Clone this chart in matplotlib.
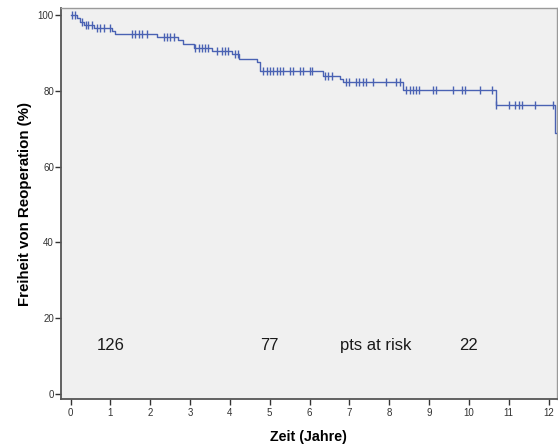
import numpy as np
import matplotlib
matplotlib.use("Agg")
import matplotlib.pyplot as plt

plt.rcParams['font.family'] = ['Liberation Sans', 'DejaVu Sans']

# Kaplan-Meier step curve: event times (years) and survival (%) after each step
event_times = [0.0, 0.16, 0.24, 0.35, 0.58, 1.03, 1.11, 2.16, 2.69, 2.83, 3.10,
               3.54, 4.05, 4.24, 4.67, 4.76, 6.33, 6.76, 6.83, 8.34, 10.68, 12.17]
survival = [100.0, 99.2, 98.4, 97.5, 96.6, 95.8, 95.1, 94.3, 93.6, 92.4, 91.5,
            90.5, 89.9, 88.5, 87.6, 85.3, 84.0, 83.3, 82.5, 80.3, 76.4, 68.9]
end_time = 12.25

# censored observations (years)
censor_times = [0.03, 0.10, 0.28, 0.38, 0.45, 0.54, 0.66, 0.74, 0.83, 1.0,
                1.54, 1.62, 1.71, 1.79, 1.92, 2.34, 2.42, 2.50, 2.59,
                3.13, 3.22, 3.30, 3.38, 3.45, 3.67, 3.79, 3.88, 3.96, 4.13, 4.20,
                4.84, 4.92, 5.01, 5.09, 5.18, 5.26, 5.34, 5.51, 5.59, 5.76, 5.84,
                6.01, 6.06, 6.39, 6.47, 6.56, 6.92, 7.00, 7.17, 7.25, 7.34, 7.42,
                7.59, 7.92, 8.17, 8.26, 8.43, 8.51, 8.59, 8.68, 8.76, 9.10, 9.18,
                9.60, 9.82, 9.91, 10.27, 10.58, 10.68, 11.00, 11.17, 11.25, 11.33,
                11.67, 12.10]

risk_labels = ["126", "77", "pts at risk", "22"]
risk_x = [1.0, 5.0, 7.65, 10.0]
risk_y = 12.8

xticks = list(range(0, 13))
yticks = [0, 20, 40, 60, 80, 100]

line_color = '#4a62b3'

fig = plt.figure(figsize=(5.58, 4.47), dpi=100)
ax = fig.add_axes([0.109, 0.107, 0.889, 0.875])
ax.set_facecolor('#f0f0f0')

xs = list(event_times) + [end_time]
ys = list(survival) + [survival[-1]]
ax.step(xs, ys, where='post', color=line_color, lw=1.0, zorder=3)

et = np.array(event_times)
sv = np.array(survival)
cy = [sv[np.searchsorted(et, t, side='right') - 1] for t in censor_times]
ax.plot(censor_times, cy, linestyle='none', marker='|', markersize=6,
        markeredgewidth=1.0, color=line_color, zorder=4)

for lab, x in zip(risk_labels, risk_x):
    ax.text(x, risk_y, lab, ha='center', va='center', fontsize=12, color='#1a1a1a')

ax.set_xlim(-0.244, 12.21)
ax.set_ylim(-1.5, 101.96)
ax.set_xticks(xticks)
ax.set_yticks(yticks)
ax.tick_params(axis='both', labelsize=7, colors='#333333', length=4, width=1.0,
               direction='out')
ax.tick_params(axis='x', pad=2)
ax.tick_params(axis='y', pad=1)

for s in ['left', 'bottom']:
    ax.spines[s].set_color('#555555')
    ax.spines[s].set_linewidth(1.3)
for s in ['top', 'right']:
    ax.spines[s].set_color('#9a9a9a')
    ax.spines[s].set_linewidth(1.0)

ax.set_xlabel('Zeit (Jahre)', fontsize=10.3, fontweight='bold', labelpad=9)
ax.set_ylabel('Freiheit von Reoperation (%)', fontsize=10.8, fontweight='bold', labelpad=4)

fig.savefig('out.png', dpi=100)
